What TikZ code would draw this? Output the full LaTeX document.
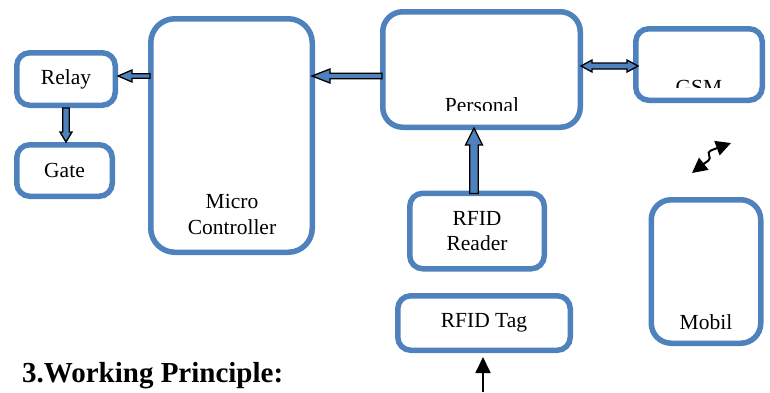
\documentclass[tikz,border=0pt]{standalone}
\usepackage{fontspec}
\setmainfont{Liberation Serif}
\usetikzlibrary{calc,arrows.meta}
\definecolor{boxblue}{HTML}{4F81BD}
\tikzset{
  block/.style={draw=boxblue, line width=5.5pt, rounded corners=13pt, align=center,
    font=\fontsize{21.5}{25.5}\selectfont},
  lbl/.style={align=center, inner sep=0pt, font=\fontsize{21.5}{25.5}\selectfont},
  fatarrow/.style={draw=black, fill=boxblue, line width=1.3pt, line join=miter},
  wave/.style={line width=2pt, {Triangle[length=15pt,width=15pt]}-{Triangle[length=15pt,width=15pt]}},
  thinarrow/.style={line width=1.8pt, -{Triangle[length=16pt,width=15pt]}}
}
% block arrow: from, to, half shaft, head length, half head
\newcommand{\fatarrow}[5]{%
  \coordinate (hb) at ($(#2)!#4!(#1)$);
  \draw[fatarrow] ($(#1)!#3!90:(#2)$) -- ($(hb)!#3!90:(#2)$) -- ($(hb)!#5!90:(#2)$) -- (#2)
    -- ($(hb)!#5!-90:(#2)$) -- ($(hb)!#3!-90:(#2)$) -- ($(#1)!#3!-90:(#2)$) -- cycle;}
% block arrow with two heads
\newcommand{\fatarrows}[5]{%
  \coordinate (ha) at ($(#1)!#4!(#2)$);
  \coordinate (hb) at ($(#2)!#4!(#1)$);
  \draw[fatarrow] (#1) -- ($(ha)!#5!90:(#2)$) -- ($(ha)!#3!90:(#2)$) -- ($(hb)!#3!90:(#2)$)
    -- ($(hb)!#5!90:(#2)$) -- (#2) -- ($(hb)!#5!-90:(#2)$) -- ($(hb)!#3!-90:(#2)$)
    -- ($(ha)!#3!-90:(#2)$) -- ($(ha)!#5!-90:(#2)$) -- cycle;}
\begin{document}
\begin{tikzpicture}[x=1pt,y=-1pt]
\useasboundingbox (0,0) rectangle (770,392);
% boxes
\node[block, minimum width=98.5pt, minimum height=52.5pt] (relay) at (66,79) {Relay};
\node[block, minimum width=95.5pt, minimum height=51.5pt] (gate) at (64.5,170.5) {Gate};
\node[block, rounded corners=24pt, minimum width=161.5pt, minimum height=233.5pt] (mcu) at (231.5,135.5) {};
\node[block, rounded corners=20pt, minimum width=197.5pt, minimum height=115.5pt] (personal) at (481.5,69.5) {};
\node[block, minimum width=126.5pt, minimum height=71.5pt] (gsm) at (699,64.5) {};
\node[block, minimum width=134.5pt, minimum height=75.5pt] (reader) at (477,231) {RFID\\Reader};
\node[block, minimum width=172.5pt, minimum height=54.5pt] (tag) at (484,323) {RFID Tag};
\node[block, rounded corners=20pt, minimum width=109.5pt, minimum height=143.5pt] (mobil) at (706,271.5) {};
% texts
\node[lbl] (mcutext) at (232,214.5) {Micro\\Controller};
\node[lbl] (mobiltext) at (706,322) {Mobil};
\begin{scope}
\clip (420,90) rectangle (545,110);
\node[lbl, anchor=base] (personaltext) at (482,112) {Personal};
\end{scope}
\begin{scope}
\clip (660,70) rectangle (740,87);
\node[lbl, anchor=base] (gsmtext) at (699,94) {GSM};
\end{scope}
\node[anchor=base west, inner sep=0pt, font=\bfseries\fontsize{29}{34}\selectfont] (heading) at (22,382) {3.Working Principle:};
% block arrows
\coordinate (mr) at ([yshift=3pt]relay.east);
\coordinate (mt) at ([xshift=2pt]mr -| mcu.west);
\fatarrow{mt}{mr}{2.3pt}{14pt}{6pt}
\coordinate (pt) at ([xshift=2pt,yshift=-6.5pt]personal.west);
\coordinate (pm) at ([xshift=-3pt]pt -| mcu.east);
\fatarrow{pt}{pm}{2.8pt}{18pt}{7pt}
\fatarrow{relay.south}{relay.south |- gate.north}{3.3pt}{10pt}{6pt}
\coordinate (g2) at ([xshift=5pt,yshift=-1.5pt]gsm.west);
\coordinate (g1) at ([xshift=-2pt]g2 -| personal.east);
\fatarrows{g1}{g2}{3pt}{11pt}{6pt}
\coordinate (rd) at ([xshift=-3pt,yshift=-3pt]reader.north);
\coordinate (rp) at ([yshift=2pt]rd |- personal.south);
\fatarrow{rd}{rp}{4.2pt}{17pt}{8.5pt}
% wireless link
\coordinate (wl) at (692,173);
\coordinate (wr) at (731,143);
\draw[wave] (wl) .. controls (706,162) and (712,160) .. (709,155) .. controls (707,151) and (712,150) .. (wr);
% tag input
\coordinate (tagin) at (483,392);
\draw[thinarrow, shorten >=4pt] (tagin) -- (tagin |- tag.south);
\end{tikzpicture}
\end{document}
